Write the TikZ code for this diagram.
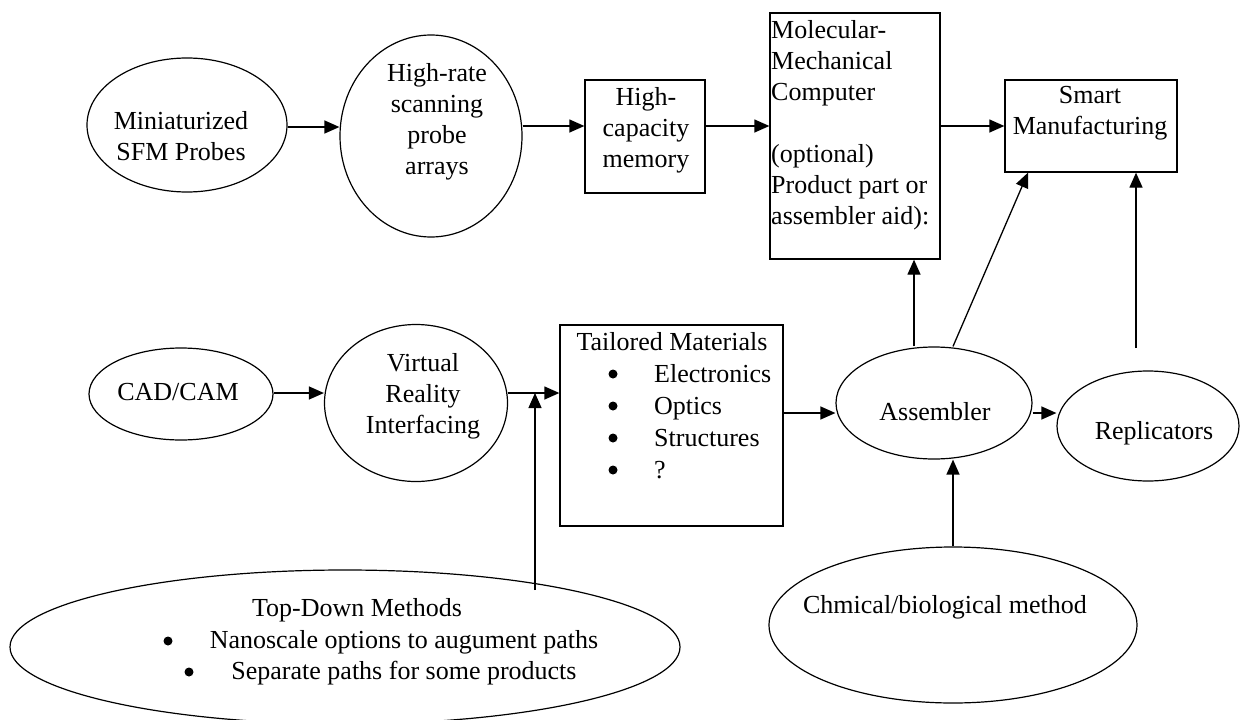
\documentclass[tikz,border=0pt]{standalone}
\usepackage{fontspec}
\setmainfont{Liberation Serif}
\usetikzlibrary{shapes.geometric,arrows.meta}
\begin{document}
\begin{tikzpicture}[x=1pt,y=-1pt,
  ell/.style={ellipse, draw, line width=1.2pt, inner sep=0pt},
  box/.style={rectangle, draw, line width=1.3pt, inner sep=0pt},
  txt/.style={font=\fontsize{26}{31}\selectfont, align=center, inner sep=0pt},
  bul/.style={fill=black},
  arr/.style={line width=1.3pt, -{Triangle[length=15pt,width=13pt]}}]
\useasboundingbox (0,0) rectangle (1245,720);
% top row
\node[ell, minimum width=200pt, minimum height=134pt] (mini) at (187,125) {};
\node[txt] (minit) at (181,136) {Miniaturized\\SFM Probes};
\node[ell, minimum width=182pt, minimum height=202pt] (hr) at (431,136) {};
\node[txt] (hrt) at (437,122) {High-rate\\scanning\\probe\\arrays};
\node[box, minimum width=120pt, minimum height=113pt] (mem) at (645,136.5) {};
\node[txt] (memt) at (646,130) {High-\\capacity\\memory};
\node[box, minimum width=170pt, minimum height=246pt] (comp) at (855,136) {};
\node[txt, align=left, anchor=north west] (compt) at (771,20) {Molecular-\\Mechanical\\Computer\\[31pt](optional)\\Product part or\\assembler aid):};
\node[box, minimum width=172pt, minimum height=92pt] (smart) at (1091,126) {};
\node[txt] (smartt) at (1090,113.5) {Smart\\Manufacturing};
% middle row
\node[ell, minimum width=184pt, minimum height=92pt] (cad) at (181,394) {};
\node[txt] (cadt) at (178,392) {CAD/CAM};
\node[ell, minimum width=183pt, minimum height=157pt] (vr) at (416,403) {};
\node[txt] (vrt) at (423,396) {Virtual\\Reality\\Interfacing};
\node[box, minimum width=223pt, minimum height=201pt] (tm) at (671.5,425.5) {};
\node[txt] (tmt) at (672,342) {Tailored Materials};
\node[txt, align=left, anchor=west, font=\fontsize{26}{32}\selectfont] (tml) at (654,422) {Electronics\\Optics\\Structures\\?};
\fill[bul] (613,374) circle (4.5pt);
\fill[bul] (613,406) circle (4.5pt);
\fill[bul] (613,438) circle (4.5pt);
\fill[bul] (613,470) circle (4.5pt);
\node[ell, minimum width=196pt, minimum height=112pt] (asm) at (934,403) {};
\node[txt] (asmt) at (935,412) {Assembler};
\node[ell, minimum width=182pt, minimum height=110pt] (rep) at (1148,426) {};
\node[txt] (rept) at (1154,433) {Replicators};
% bottom row
\node[ell, minimum width=368pt, minimum height=156pt] (chem) at (953,625) {};
\node[txt] (chemt) at (945,607) {Chmical/biological method};
\node[ell, minimum width=670pt, minimum height=154pt] (td) at (345,647) {};
\node[txt] (tdt) at (357,610) {Top-Down Methods};
\node[txt] (tdl) at (404,657.5) {Nanoscale options to augument paths\\Separate paths for some products};
\fill[bul] (168,641) circle (4.5pt);
\fill[bul] (189,672) circle (4.5pt);
% helper coordinates
\coordinate (ya) at (0,127);
\coordinate (yb) at (0,126);
\coordinate (yc) at (0,393);
\coordinate (yd) at (0,413);
\coordinate (xa) at (914,0);
\coordinate (xc) at (953,0);
\coordinate (xe) at (1028,0);
\coordinate (xj) at (535,0);
\coordinate (j) at (xj |- yc);
\coordinate (tdpt) at (535,590);
\coordinate (rtop) at (1136,348);
% connectors
\draw[arr] (mini.east |- ya) -- (hr.west |- ya);
\draw[arr] (hr.east |- yb) -- (mem.west |- yb);
\draw[arr] (mem.east |- yb) -- (comp.west |- yb);
\draw[arr] (comp.east |- yb) -- (smart.west |- yb);
\draw[arr] (cad.east |- yc) -- (vr.west |- yc);
\draw[arr] (vr.east |- yc) -- (tm.west |- yc);
\draw[arr] (tdpt) -- (j);
\draw[arr] (tm.east |- yd) -- (asm.west |- yd);
\draw[arr] (asm.east |- yd) -- (rep.west |- yd);
\draw[arr] (asm.north -| xa) -- (comp.south -| xa);
\draw[arr] (asm.north -| xc) -- (smart.south -| xe);
\draw[arr] (rtop) -- (smart.south -| rtop);
\draw[arr] (chem.north -| xc) -- (asm.south -| xc);
\end{tikzpicture}
\end{document}
